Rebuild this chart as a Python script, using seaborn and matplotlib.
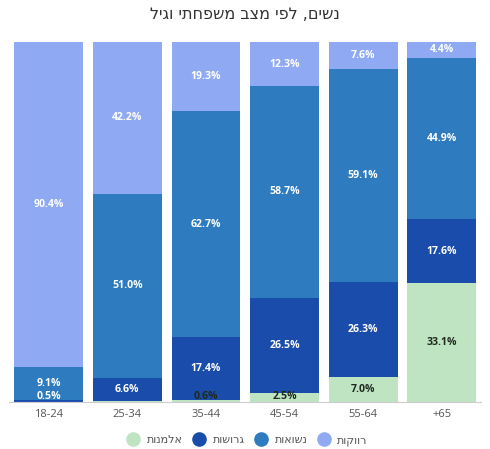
import numpy as np
import pandas as pd
import matplotlib
matplotlib.use("Agg")
import matplotlib.pyplot as plt
import seaborn as sns
from matplotlib.lines import Line2D

# data (percent), stacked bottom -> top
ages = ["18-24", "25-34", "35-44", "45-54", "55-64", "+65"]
widowed = [0.0, 0.2, 0.6, 2.5, 7.0, 33.1]
divorced = [0.5, 6.6, 17.4, 26.5, 26.3, 17.6]
married = [9.1, 51.0, 62.7, 58.7, 59.1, 44.9]
single = [90.4, 42.2, 19.3, 12.3, 7.6, 4.4]

series_names = ["אלמנות", "גרושות", "נשואות", "רווקות"]
series_vals = [widowed, divorced, married, single]
colors = ["#bfe4c2", "#1a4dab", "#2e7bbf", "#8faaf3"]
label_colors = ["#1f2a1f", "white", "white", "white"]
title = "נשים, לפי מצב משפחתי וגיל"


def rtl(s):
    # matplotlib has no bidi support, so flip Hebrew text for display
    return s[::-1]


sns.set_style("white")
plt.rcParams["font.family"] = ["Open Sans", "DejaVu Sans"]

fig = plt.figure(figsize=(4.9, 4.49), dpi=100)
ax = fig.add_axes([0.019, 0.1047, 0.963, 0.8018])

bottom = np.zeros(len(ages))
for name, vals, col, lcol in zip(series_names, series_vals, colors, label_colors):
    df = pd.DataFrame({"age": ages, "pct": vals})
    sns.barplot(data=df, x="age", y="pct", color=col, bottom=bottom,
                width=0.875, saturation=1, ax=ax, linewidth=0)
    for i, v in enumerate(vals):
        if v >= 0.5:
            y = max(bottom[i] + v / 2, bottom[i] + 1.6)
            ax.text(i, y, f"{v:.1f}%", ha="center", va="center",
                    color=lcol, fontsize=7.6, fontweight="bold")
    bottom = bottom + np.array(vals)

ax.set_xlim(-0.5, len(ages) - 0.5)
ax.set_ylim(0, 100)
ax.set_xlabel("")
ax.set_ylabel("")
ax.set_yticks([])
ax.tick_params(axis="x", length=0, pad=5, labelsize=8, labelcolor="#555555")
for s in ["top", "left", "right"]:
    ax.spines[s].set_visible(False)
ax.spines["bottom"].set_color("#cccccc")
ax.spines["bottom"].set_linewidth(0.8)

fig.text(0.5, 0.968, rtl(title), ha="center", va="center", fontsize=11.5,
         color="#333333", family="DejaVu Sans")

handles = [Line2D([0], [0], marker="o", linestyle="", markersize=9.5,
                  markerfacecolor=c, markeredgecolor=c) for c in colors]
leg = fig.legend(handles, [rtl(n) for n in series_names], loc="center",
                 bbox_to_anchor=(0.5, 0.019), ncol=4, frameon=False,
                 handletextpad=0.2, columnspacing=0.5,
                 prop={"family": "DejaVu Sans", "size": 8})
for t in leg.get_texts():
    t.set_color("#555555")

fig.savefig("out.png", dpi=100)
